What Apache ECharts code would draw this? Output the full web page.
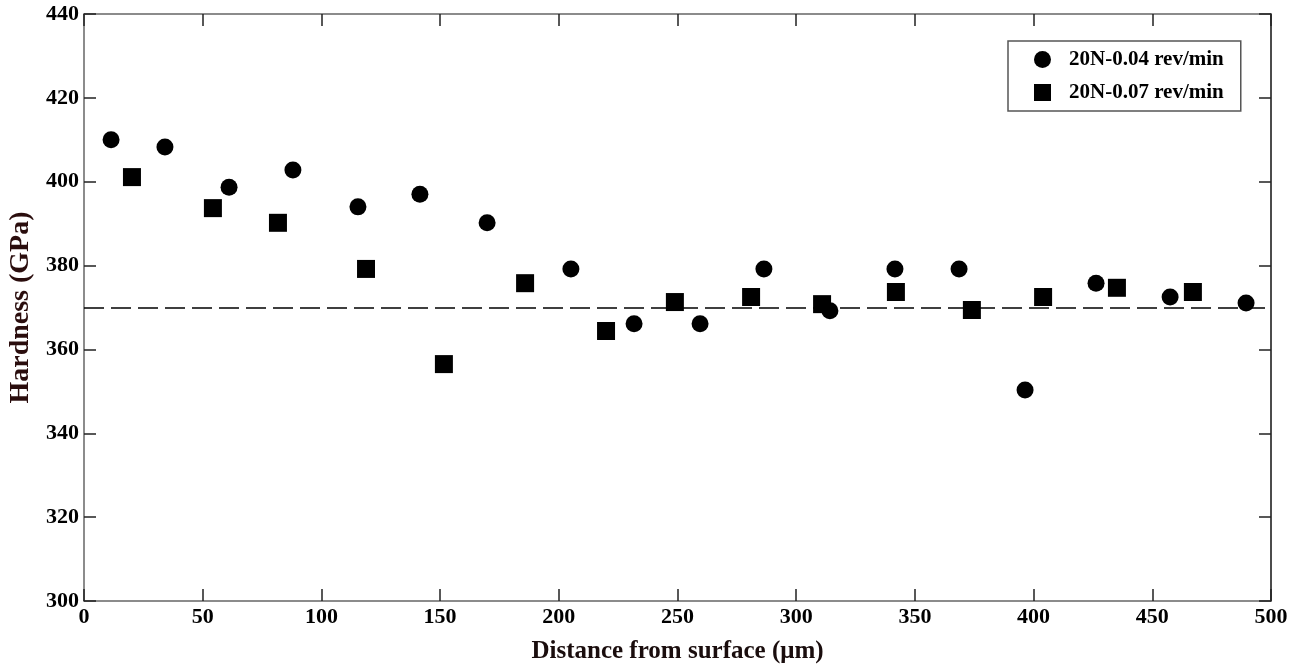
<!DOCTYPE html>
<html>
<head>
<meta charset="utf-8">
<style>
  html, body { margin: 0; padding: 0; background: #fff; }
  #chart { width: 1302px; height: 669px; }
</style>
<script src="https://cdn.jsdelivr.net/npm/echarts@6/dist/echarts.min.js"></script>
</head>
<body>
<div id="chart"></div>
<script>
// hardness profiles
const distA = [11.4, 34.1, 61.1, 88, 115.4, 141.5, 169.8, 205.1, 231.7, 259.5, 286.4, 314.2, 341.6, 368.6, 396.4, 426.3, 457.5, 489.5];
const hardA = [410, 408.3, 398.7, 402.8, 394, 397, 390.2, 379.2, 366.1, 366.1, 379.2, 369.2, 379.2, 379.2, 350.3, 375.8, 372.5, 371.1];

const distB = [20.2, 54.3, 81.7, 118.8, 151.6, 185.8, 219.9, 248.9, 281, 310.9, 342, 374, 404, 435.1, 467.1];
const hardB = [401.1, 393.7, 390.2, 379.2, 356.5, 375.8, 364.4, 371.3, 372.5, 370.8, 373.7, 369.4, 372.5, 374.7, 373.7];

const seriesNames = ['20N-0.04 rev/min', '20N-0.07 rev/min'];
const refHardness = 370;

const font = '"Liberation Serif", "Times New Roman", serif';

const chart = echarts.init(document.getElementById('chart'));

const axisBase = {
  axisLine: { show: true, onZero: false, lineStyle: { color: '#666', width: 1.5 } },
  axisTick: { show: true, inside: true, length: 12, lineStyle: { color: '#222', width: 1.5 } },
  splitLine: { show: false },
};
const labelStyle = { fontFamily: font, fontWeight: 'bold', fontSize: 22, color: '#000' };

chart.setOption({
  animation: false,
  grid: { left: 84, right: 31, top: 14, bottom: 68, containLabel: false, outerBoundsMode: 'none' },
  legend: {
    orient: 'vertical',
    left: 1008,
    top: 41,
    padding: [8, 17, 8, 26],
    itemGap: 12,
    itemWidth: 17,
    itemHeight: 17,
    backgroundColor: '#fff',
    borderColor: '#555',
    borderWidth: 1.5,
    textStyle: { fontFamily: font, fontWeight: 'bold', fontSize: 21, color: '#000', padding: [0, 0, 0, 13] },
    data: [
      { name: seriesNames[0], icon: 'circle' },
      { name: seriesNames[1], icon: 'rect' },
    ],
  },
  xAxis: [
    {
      ...axisBase,
      type: 'value',
      min: 0,
      max: 500,
      interval: 50,
      name: 'Distance from surface (\u03bcm)',
      nameLocation: 'middle',
      nameGap: 38,
      nameTextStyle: { fontFamily: font, fontWeight: 'bold', fontSize: 25, color: '#1a0d0d' },
      axisLabel: { ...labelStyle, margin: 5 },
    },
    {
      ...axisBase,
      type: 'value',
      position: 'top',
      min: 0,
      max: 500,
      interval: 50,
      axisLabel: { show: false },
    },
  ],
  yAxis: [
    {
      ...axisBase,
      type: 'value',
      min: 300,
      max: 440,
      interval: 20,
      name: 'Hardness (GPa)',
      nameLocation: 'middle',
      nameGap: 47,
      nameTextStyle: { fontFamily: font, fontWeight: 'bold', fontSize: 28, color: '#2a0d0d' },
      axisLabel: { ...labelStyle, margin: 5 },
    },
    {
      ...axisBase,
      type: 'value',
      position: 'right',
      min: 300,
      max: 440,
      interval: 20,
      axisLine: { show: true, onZero: false, lineStyle: { color: '#111', width: 1.5 } },
      axisLabel: { show: false },
    },
  ],
  series: [
    {
      name: seriesNames[0],
      type: 'scatter',
      symbol: 'circle',
      symbolSize: 17,
      itemStyle: { color: '#000', opacity: 1 },
      data: distA.map((d, i) => [d, hardA[i]]),
      markLine: {
        silent: true,
        symbol: 'none',
        label: { show: false },
        lineStyle: { color: '#000', width: 1.5, type: [20, 7] },
        data: [{ yAxis: refHardness }],
      },
      z: 3,
    },
    {
      name: seriesNames[1],
      type: 'scatter',
      symbol: 'rect',
      symbolSize: 18,
      itemStyle: { color: '#000', opacity: 1 },
      data: distB.map((d, i) => [d, hardB[i]]),
      z: 2,
    },
  ],
});
</script>
</body>
</html>
